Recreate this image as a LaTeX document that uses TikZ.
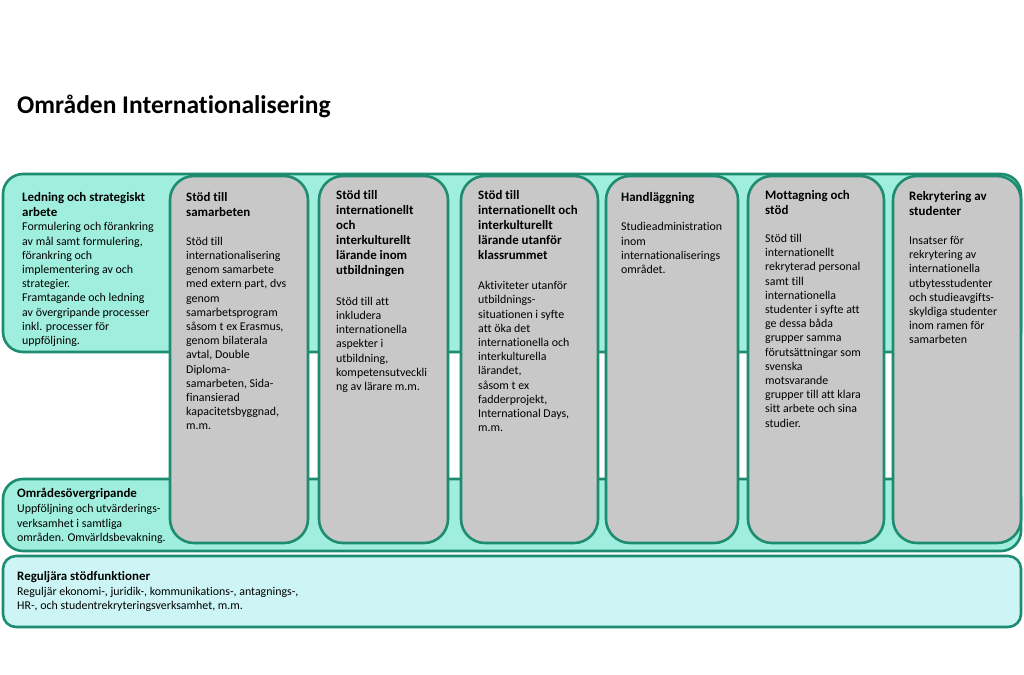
\documentclass[tikz,border=0pt]{standalone}
\usepackage{fontspec}
\setmainfont[Ligatures=NoCommon]{Carlito}
\definecolor{bordc}{RGB}{30,140,112}
\definecolor{bandc}{RGB}{160,238,222}
\definecolor{colc}{RGB}{200,200,200}
\definecolor{basec}{RGB}{205,245,245}
\newcommand{\firstline}{\rule{0pt}{14pt}}
\tikzset{
  band/.style={draw=bordc, fill=bandc, line width=2.6pt, rounded corners=20pt},
  colbox/.style={draw=bordc, fill=colc, line width=2.6pt, rounded corners=24pt},
  basebox/.style={draw=bordc, fill=basec, line width=2.6pt, rounded corners=13pt},
  txt/.style={anchor=north west, inner sep=0pt, align=left, yshift=14pt},
  head/.style={txt, font=\fontsize{12.9}{15}\selectfont\bfseries},
  body/.style={txt, font=\fontsize{11.9}{14.2}\selectfont},
  titletext/.style={anchor=base west, inner sep=0pt, font=\fontsize{25.5}{30}\selectfont\bfseries}
}
\begin{document}
\begin{tikzpicture}[x=1pt,y=-1pt]
\useasboundingbox (0,0) rectangle (1024,674);
\fill[white] (0,0) rectangle (1024,674);
\node[titletext] (title) at (17,113.3) {Områden Internationalisering};
% bands
\path[band] (3,174) rectangle (1021,352);
\path[band] (3,479) rectangle (1021,551);
\path[basebox] (3,556) rectangle (1021,627);
% columns
\path[colbox] (170,176) rectangle (308,543);
\path[colbox] (319,176) rectangle (448,543);
\path[colbox] (461,176) rectangle (598,543);
\path[colbox] (606,176) rectangle (738,543);
\path[colbox] (748,176) rectangle (884,543);
\path[colbox] (893,176) rectangle (1021,543);
% Ledning
\node[head] (ledh) at (22,201.7) {\firstline Ledning och strategiskt\\arbete};
\node[body] (ledb) at (22,230.7) {\firstline Formulering och förankring\\av mål samt formulering,\\förankring och\\implementering av och\\strategier.\\Framtagande och ledning\\av övergripande processer\\inkl. processer för\\uppföljning.};
% columns text
\node[head] (c1h) at (186,201) {\firstline Stöd till\\samarbeten};
\node[body] (c1b) at (186,245) {\firstline Stöd till\\internationalisering\\genom samarbete\\med extern part, dvs\\genom\\samarbetsprogram\\såsom t ex Erasmus,\\genom bilaterala\\avtal, Double\\Diploma-\\samarbeten, Sida-\\finansierad\\kapacitetsbyggnad,\\m.m.};
\node[head] (c2h) at (336,199) {\firstline Stöd till\\internationellt\\och\\interkulturellt\\lärande inom\\utbildningen};
\node[body] (c2b) at (336,305) {\firstline Stöd till att\\inkludera\\internationella\\aspekter i\\utbildning,\\kompetensutveckli\\ng av lärare m.m.};
\node[head] (c3h) at (478,199) {\firstline Stöd till\\internationellt och\\interkulturellt\\lärande utanför\\klassrummet};
\node[body] (c3b) at (478,289.5) {\firstline Aktiviteter utanför\\utbildnings-\\situationen i syfte\\att öka det\\internationella och\\interkulturella\\lärandet,\\såsom t ex\\fadderprojekt,\\International Days,\\m.m.};
\node[head] (c4h) at (621,201) {\firstline Handläggning};
\node[body] (c4b) at (621,230.7) {\firstline Studieadministration\\inom\\internationaliserings\\området.};
\node[head] (c5h) at (765,199) {\firstline Mottagning och\\stöd};
\node[body] (c5b) at (765,242.3) {\firstline Stöd till\\internationellt\\rekryterad personal\\samt till\\internationella\\studenter i syfte att\\ge dessa båda\\grupper samma\\förutsättningar som\\svenska\\motsvarande\\grupper till att klara\\sitt arbete och sina\\studier.};
\node[head] (c6h) at (909,200) {\firstline Rekrytering av\\studenter};
\node[body] (c6b) at (909,244.3) {\firstline Insatser för\\rekrytering av\\internationella\\utbytesstudenter\\och studieavgifts-\\skyldiga studenter\\inom ramen för\\samarbeten};
% lower bands text
\node[head] (omrh) at (17,497.3) {\firstline Områdesövergripande};
\node[body] (omrb) at (17,512.7) {\firstline Uppföljning och utvärderings-\\verksamhet i samtliga\\områden. Omvärldsbevakning.};
\node[head] (regh) at (17,580.7) {\firstline Reguljära stödfunktioner};
\node[body] (regb) at (17,595) {\firstline Reguljär ekonomi-, juridik-, kommunikations-, antagnings-,\\HR-, och studentrekryteringsverksamhet, m.m.};
\end{tikzpicture}
\end{document}
